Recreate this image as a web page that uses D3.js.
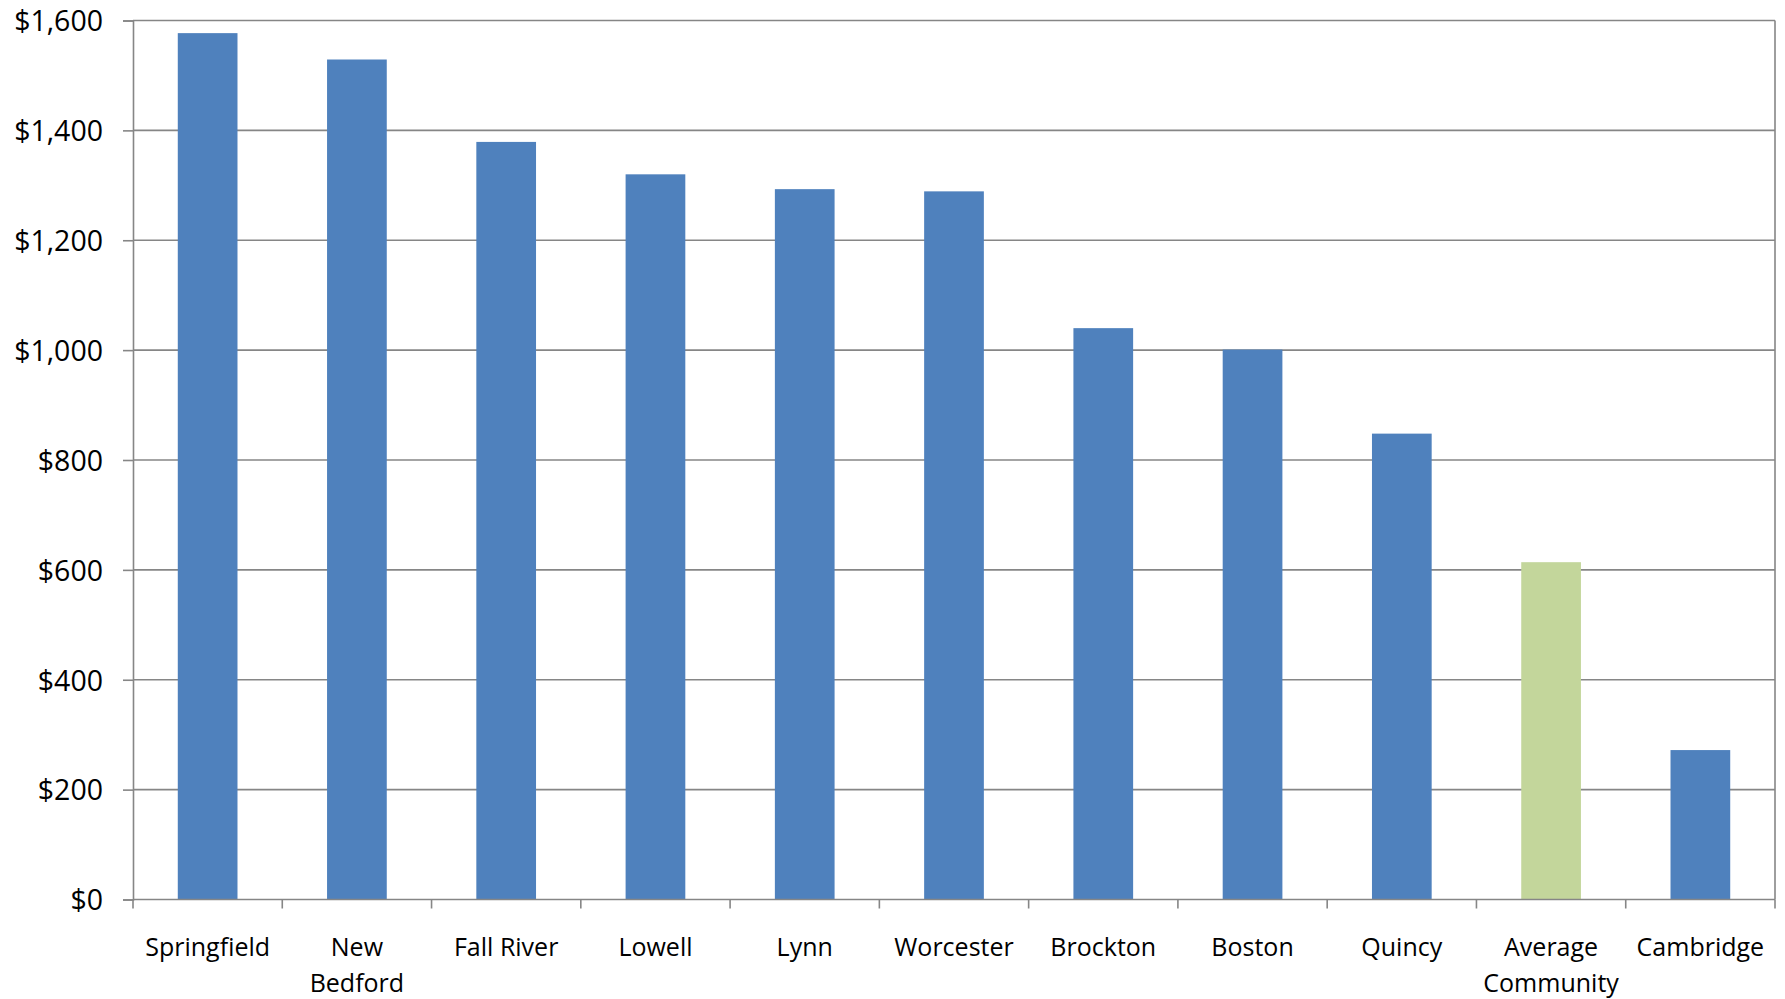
<!DOCTYPE html>
<html><head><meta charset="utf-8">
<script src="https://cdn.jsdelivr.net/npm/d3@7"></script>
<style>
html,body{margin:0;padding:0;background:#fff;}
svg{display:block;}
</style></head>
<body>
<svg id="chart" width="1785" height="999"></svg>
<script>
const categories = ["Springfield","New\nBedford","Fall River","Lowell","Lynn","Worcester","Brockton","Boston","Quincy","Average\nCommunity","Cambridge"];
const values = [1577, 1529, 1379, 1320, 1293, 1289, 1040, 1001, 848, 614, 272];
const highlight = ["Average\nCommunity"];
const yTicks = [0, 200, 400, 600, 800, 1000, 1200, 1400, 1600];

const W = 1785, H = 999;
const margin = {left: 133, right: 10, top: 20.5, bottom: 99.5};
const svg = d3.select("#chart");
const font = "'Open Sans', sans-serif";
const grid = "#868686";

const x = d3.scaleBand().domain(categories)
  .range([margin.left, W - margin.right])
  .paddingInner(0.6).paddingOuter(0.3);
const y = d3.scaleLinear().domain([0, 1600]).range([H - margin.bottom, margin.top]);

// gridlines
svg.append("g").selectAll("line").data(yTicks.filter(d => d > 0)).join("line")
  .attr("x1", margin.left).attr("x2", W - margin.right)
  .attr("y1", d => y(d)).attr("y2", d => y(d))
  .attr("stroke", grid).attr("stroke-width", 1.6);

// right border
svg.append("line")
  .attr("x1", W - margin.right).attr("x2", W - margin.right)
  .attr("y1", y(1600)).attr("y2", y(0))
  .attr("stroke", grid).attr("stroke-width", 1.6);

// bars
svg.append("g").selectAll("rect").data(categories).join("rect")
  .attr("x", d => x(d))
  .attr("width", x.bandwidth())
  .attr("y", (d, i) => y(values[i]))
  .attr("height", (d, i) => y(0) - y(values[i]))
  .attr("fill", d => highlight.includes(d) ? "#C3D69B" : "#4F81BD");

// y axis
const yAxis = d3.axisLeft(y).tickValues(yTicks).tickSize(10).tickPadding(20)
  .tickFormat(d => "$" + d3.format(",")(d));
const gy = svg.append("g").attr("transform", `translate(${margin.left},0)`).call(yAxis);
gy.select(".domain").attr("stroke", grid).attr("stroke-width", 1.6);
gy.selectAll(".tick line").attr("stroke", grid).attr("stroke-width", 1.6);
gy.selectAll(".tick text").attr("font-family", font).attr("font-size", 28.5)
  .attr("fill", "#000").attr("dy", "0.36em");

// x axis
const xTickPos = d3.range(categories.length + 1).map(i => margin.left + i * x.step());
const gx = svg.append("g");
gx.append("line").attr("x1", margin.left).attr("x2", W - margin.right)
  .attr("y1", y(0)).attr("y2", y(0)).attr("stroke", grid).attr("stroke-width", 1.6);
gx.selectAll("line.tk").data(xTickPos).join("line").attr("class", "tk")
  .attr("x1", d => d).attr("x2", d => d)
  .attr("y1", y(0)).attr("y2", y(0) + 9)
  .attr("stroke", grid).attr("stroke-width", 1.6);

const labels = gx.selectAll("text").data(categories).join("text")
  .attr("x", d => x(d) + x.bandwidth() / 2)
  .attr("y", y(0) + 56)
  .attr("text-anchor", "middle")
  .attr("font-family", font).attr("font-size", 25).attr("fill", "#000");
labels.each(function(d) {
  const t = d3.select(this);
  d.split("\n").forEach((line, i) => {
    t.append("tspan").attr("x", x(d) + x.bandwidth() / 2)
      .attr("dy", i === 0 ? 0 : 36).text(line);
  });
});
</script>
</body></html>
